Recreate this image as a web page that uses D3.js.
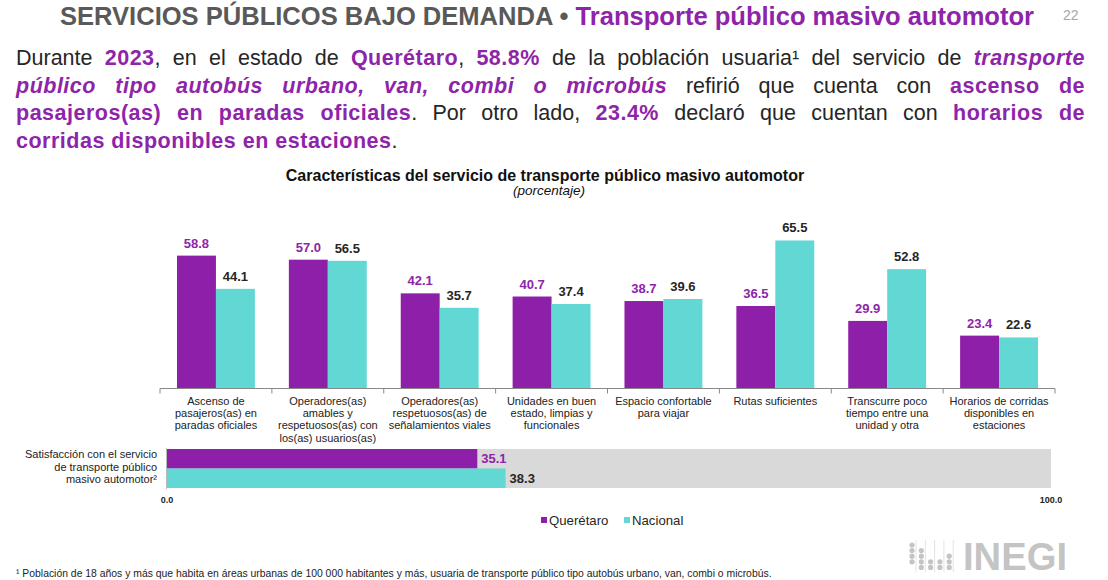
<!DOCTYPE html>
<html>
<head>
<meta charset="utf-8">
<script src="https://cdn.jsdelivr.net/npm/d3@7"></script>
<style>
  body { margin: 0; background: #fff; font-family: "Liberation Sans", Arial, sans-serif; }
  #wrap { position: relative; width: 1108px; height: 580px; overflow: hidden; }
  #para { position: absolute; left: 16px; top: 45px; width: 1069px; font-size: 21.5px; line-height: 27.5px; color: #262626; }
  #para div { text-align: justify; text-align-last: justify; white-space: nowrap; }
  #para div.last { text-align-last: left; }
  #para b { color: #8e24aa; letter-spacing: 0.5px; }
  svg { position: absolute; left: 0; top: 0; }
</style>
</head>
<body>
<div id="wrap">
  <svg id="chart" width="1108" height="580"></svg>
  <div id="para">
    <div>Durante <b>2023</b>, en el estado de <b>Querétaro</b>, <b>58.8%</b> de la población usuaria¹ del servicio de <b><i>transporte</i></b></div>
    <div><b><i>público tipo autobús urbano, van, combi o microbús</i></b> refirió que cuenta con <b>ascenso de</b></div>
    <div><b>pasajeros(as) en paradas oficiales</b>. Por otro lado, <b>23.4%</b> declaró que cuentan con <b>horarios de</b></div>
    <div class="last"><b>corridas disponibles en estaciones</b>.</div>
  </div>
</div>
<script>
const categories = [
  ["Ascenso de", "pasajeros(as) en", "paradas oficiales"],
  ["Operadores(as)", "amables y", "respetuosos(as) con", "los(as) usuarios(as)"],
  ["Operadores(as)", "respetuosos(as) de", "señalamientos viales"],
  ["Unidades en buen", "estado, limpias y", "funcionales"],
  ["Espacio confortable", "para viajar"],
  ["Rutas suficientes"],
  ["Transcurre poco", "tiempo entre una", "unidad y otra"],
  ["Horarios de corridas", "disponibles en", "estaciones"]
];
const series = ["Querétaro", "Nacional"];
const queretaro = [58.8, 57.0, 42.1, 40.7, 38.7, 36.5, 29.9, 23.4];
const nacional = [44.1, 56.5, 35.7, 37.4, 39.6, 65.5, 52.8, 22.6];

const satLabel = ["Satisfacción con el servicio", "de transporte público", "masivo automotor²"];
const satValues = [35.1, 38.3];
const satTicks = [0, 100];

const purple = "#8e1fa8";
const cyan = "#62d8d5";
const purpleText = "#8e24aa";

const svg = d3.select("#chart");

// header
const head = svg.append("text")
  .attr("x", 60).attr("y", 25)
  .attr("font-size", 25).attr("font-weight", "bold")
  .attr("textLength", 974).attr("lengthAdjust", "spacingAndGlyphs");
head.append("tspan").attr("fill", "#595959").text("SERVICIOS PÚBLICOS BAJO DEMANDA • ");
head.append("tspan").attr("fill", purpleText).text("Transporte público masivo automotor");

svg.append("text")
  .attr("x", 1063).attr("y", 20)
  .attr("font-size", 14).attr("fill", "#a6a6a6")
  .text("22");

// chart title
svg.append("text")
  .attr("x", 545).attr("y", 181)
  .attr("text-anchor", "middle")
  .attr("font-size", 16).attr("font-weight", "bold").attr("fill", "#111")
  .text("Características del servicio de transporte público masivo automotor");
svg.append("text")
  .attr("x", 549).attr("y", 195)
  .attr("text-anchor", "middle")
  .attr("font-size", 13.5).attr("font-style", "italic").attr("fill", "#111")
  .text("(porcentaje)");

// vertical bars
const rows = categories.map((c, i) => ({ i: i, lines: c, values: [queretaro[i], nacional[i]] }));

const x0 = d3.scaleBand()
  .domain(d3.range(categories.length))
  .range([160, 1055]);

const x1 = d3.scaleBand()
  .domain(series)
  .range([0, x0.bandwidth()])
  .paddingOuter(0.436);

const y = d3.scaleLinear()
  .domain([0, 70])
  .range([388.5, 230.3]);

const groups = svg.append("g").selectAll("g")
  .data(rows)
  .join("g")
  .attr("transform", d => `translate(${x0(d.i)},0)`);

groups.selectAll("rect")
  .data(d => d.values.map((v, k) => ({ s: series[k], v: v })))
  .join("rect")
  .attr("x", d => x1(d.s))
  .attr("y", d => y(d.v))
  .attr("width", x1.bandwidth())
  .attr("height", d => y(0) - y(d.v))
  .attr("fill", d => d.s === series[0] ? purple : cyan);

groups.selectAll("text.val")
  .data(d => d.values.map((v, k) => ({ s: series[k], v: v })))
  .join("text")
  .attr("class", "val")
  .attr("x", d => x1(d.s) + x1.bandwidth() / 2)
  .attr("y", d => y(d.v) - 8)
  .attr("text-anchor", "middle")
  .attr("font-size", 13).attr("font-weight", "bold")
  .attr("fill", d => d.s === series[0] ? purpleText : "#262626")
  .text(d => d.v.toFixed(1));

// x axis
const axisG = svg.append("g").attr("transform", `translate(0,${y(0)})`);
axisG.append("line")
  .attr("x1", x0.range()[0]).attr("x2", x0.range()[1])
  .attr("stroke", "#888").attr("stroke-width", 1.2);
axisG.selectAll("line.tick")
  .data(d3.range(categories.length + 1))
  .join("line")
  .attr("class", "tick")
  .attr("x1", i => 160 + i * x0.step()).attr("x2", i => 160 + i * x0.step())
  .attr("y1", 0).attr("y2", 5)
  .attr("stroke", "#888");

const labelG = svg.append("g");
rows.forEach(r => {
  const t = labelG.append("text")
    .attr("text-anchor", "middle")
    .attr("font-size", 11).attr("fill", "#222");
  r.lines.forEach((ln, k) => {
    t.append("tspan")
      .attr("x", x0(r.i) + x0.bandwidth() / 2)
      .attr("y", 405 + k * 12.2)
      .text(ln);
  });
});

// horizontal satisfaction bars
const xs = d3.scaleLinear().domain([0, 100]).range([167, 1051]);
const ys = d3.scaleBand().domain(series).range([449, 488]);

svg.append("rect")
  .attr("x", xs(0)).attr("y", 449)
  .attr("width", xs(100) - xs(0)).attr("height", 39)
  .attr("fill", "#d9d9d9");

svg.selectAll("rect.sat")
  .data(satValues.map((v, k) => ({ s: series[k], v: v })))
  .join("rect")
  .attr("class", "sat")
  .attr("x", xs(0))
  .attr("y", d => ys(d.s))
  .attr("width", d => xs(d.v) - xs(0))
  .attr("height", ys.bandwidth())
  .attr("fill", d => d.s === series[0] ? purple : cyan);

svg.selectAll("text.satval")
  .data(satValues.map((v, k) => ({ s: series[k], v: v })))
  .join("text")
  .attr("class", "satval")
  .attr("x", d => xs(d.v) + 4)
  .attr("y", d => ys(d.s) + ys.bandwidth() / 2 + 4.5)
  .attr("font-size", 13).attr("font-weight", "bold")
  .attr("fill", d => d.s === series[0] ? purpleText : "#262626")
  .text(d => d.v.toFixed(1));

svg.append("line")
  .attr("x1", xs(0) - 0.5).attr("x2", xs(0) - 0.5)
  .attr("y1", 448).attr("y2", 489)
  .attr("stroke", "#bbb");

const satT = svg.append("text")
  .attr("text-anchor", "end")
  .attr("font-size", 11).attr("fill", "#222");
satLabel.forEach((ln, k) => {
  satT.append("tspan").attr("x", 157).attr("y", 458 + k * 12.7).text(ln);
});

svg.selectAll("text.satTick")
  .data(satTicks)
  .join("text")
  .attr("class", "satTick")
  .attr("x", d => xs(d))
  .attr("y", 503)
  .attr("text-anchor", "middle")
  .attr("font-size", 9).attr("font-weight", "bold").attr("fill", "#222")
  .text(d => d.toFixed(1));

// legend
const legend = svg.append("g").attr("transform", "translate(541,520)");
let lx = 0;
series.forEach((s, k) => {
  legend.append("rect")
    .attr("x", lx).attr("y", -3)
    .attr("width", 6).attr("height", 6)
    .attr("fill", k === 0 ? purple : cyan);
  legend.append("text")
    .attr("x", lx + 8).attr("y", 4.5)
    .attr("font-size", 13.2).attr("fill", "#262626")
    .text(s);
  lx += 83;
});

// footnote
svg.append("text")
  .attr("x", 16).attr("y", 577)
  .attr("font-size", 10.4).attr("fill", "#222")
  .text("¹ Población de 18 años y más que habita en áreas urbanas de 100 000 habitantes y más, usuaria de transporte público tipo autobús urbano, van, combi o microbús.");

// INEGI logo
const logo = svg.append("g").attr("fill", "#c4c4c4");
const dotCols = [[0, 1, 2, 3], [1, 2, 3, 4], [3, 4], [3, 4], [2, 3, 4]];
dotCols.forEach((col, c) => {
  col.forEach(r => {
    logo.append("circle")
      .attr("cx", 912 + c * 9.3).attr("cy", 545 + r * 5.6)
      .attr("r", 2.6);
  });
  logo.append("rect")
    .attr("x", 915.5 + c * 9.3).attr("y", 540).attr("width", 1).attr("height", 32)
    .attr("fill", "#e3e3e3");
});
logo.append("text")
  .attr("x", 963).attr("y", 569.5)
  .attr("font-size", 38).attr("font-weight", "bold")
  .attr("textLength", 104).attr("lengthAdjust", "spacingAndGlyphs")
  .text("INEGI");
</script>
</body>
</html>
